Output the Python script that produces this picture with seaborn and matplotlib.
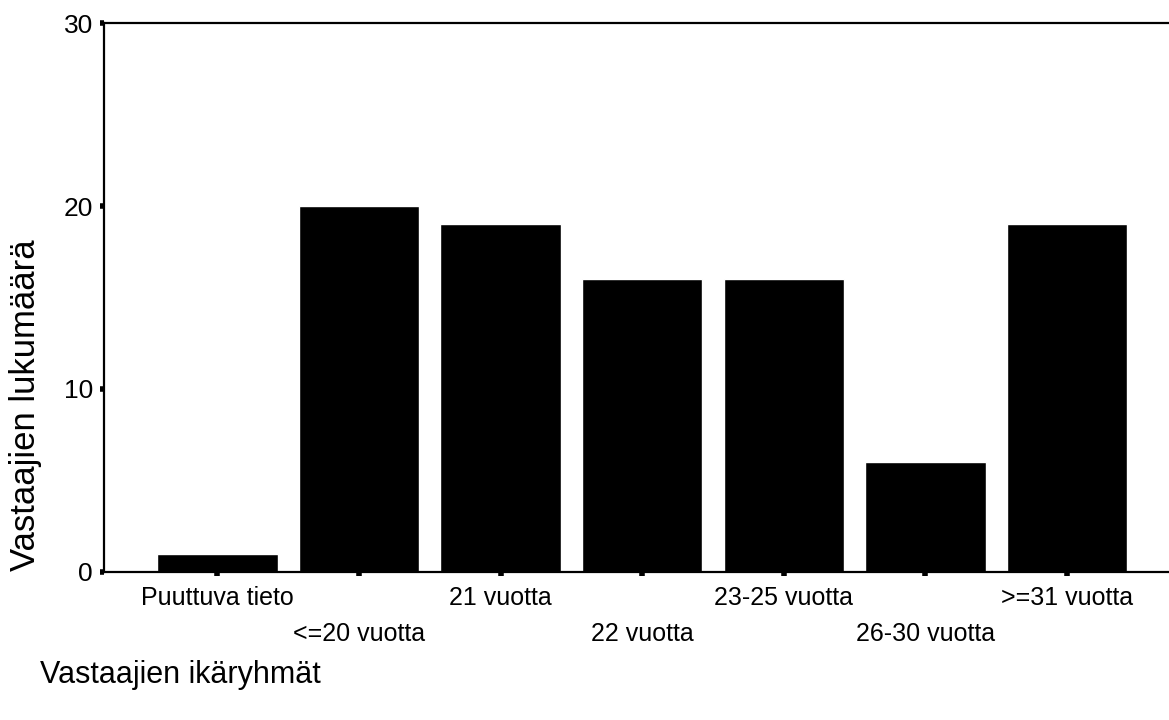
import matplotlib
matplotlib.use("Agg")
import matplotlib.pyplot as plt
import seaborn as sns
import pandas as pd

# data
ryhmat = ['Puuttuva tieto', '<=20 vuotta', '21 vuotta', '22 vuotta',
          '23-25 vuotta', '26-30 vuotta', '>=31 vuotta']
lukumaara = [1, 20, 19, 16, 16, 6, 19]
yticks = [0, 10, 20, 30]

df = pd.DataFrame({'ryhma': ryhmat, 'n': lukumaara})

sns.set_theme(style='white')
plt.rcParams['font.family'] = ['Liberation Sans', 'DejaVu Sans']
plt.rcParams.update({'text.color': 'black', 'axes.labelcolor': 'black',
                     'xtick.color': 'black', 'ytick.color': 'black'})

fig = plt.figure(figsize=(11.69, 7.2), dpi=100)
ax = fig.add_axes([0.089, 0.2056, 0.911, 0.7624])

sns.barplot(data=df, x='ryhma', y='n', color='black', saturation=1,
            width=0.85, ax=ax)

ax.set_ylim(0, 30)
ax.set_xlim(-0.80, 6.72)
ax.set_yticks(yticks)
ax.set_yticklabels([str(t) for t in yticks], fontsize=19)
ax.set_xticklabels(ryhmat, fontsize=18)

for side in ['left', 'bottom', 'top']:
    ax.spines[side].set_visible(True)
    ax.spines[side].set_color('black')
    ax.spines[side].set_linewidth(1.6)
ax.spines['right'].set_visible(False)

ax.tick_params(axis='both', which='major', direction='out', length=3,
               width=4, color='black', bottom=True, left=True)
ax.tick_params(axis='y', pad=5)

# porrastetut nimiot
for i, tick in enumerate(ax.xaxis.get_major_ticks()):
    tick.set_pad(7 if i % 2 == 0 else 33)

ax.set_ylabel('Vastaajien lukumäärä', fontsize=25)
ax.yaxis.set_label_coords(-0.058, 0.304)
ax.set_xlabel('Vastaajien ikäryhmät', fontsize=22, ha='left')
ax.xaxis.set_label_coords(-0.060, -0.160)

fig.savefig('out.png', dpi=100, facecolor='white')
